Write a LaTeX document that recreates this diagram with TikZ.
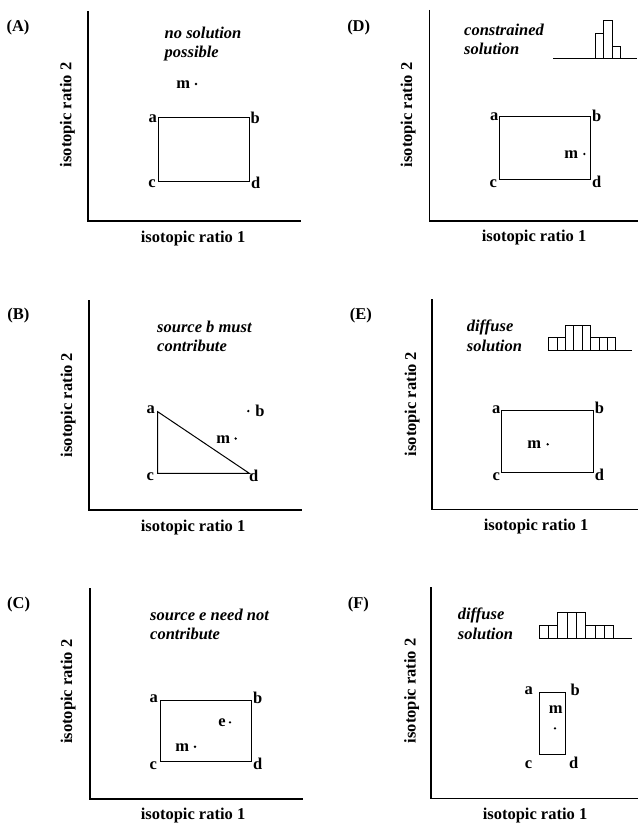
\documentclass[tikz,border=0pt]{standalone}
\usepackage{fontspec}
\setmainfont{Liberation Serif}
\begin{document}
\begin{tikzpicture}[x=1pt,y=-1pt,
  lab/.style={font=\fontsize{16.5}{19}\selectfont\bfseries, inner sep=0pt},
  note/.style={font=\fontsize{16.5}{19.2}\selectfont\bfseries\itshape, inner sep=0pt, align=left, anchor=base west},
  axl/.style={font=\fontsize{16.5}{19}\selectfont\bfseries, inner sep=0pt, anchor=base},
  ayl/.style={axl, rotate=90},
  axisline/.style={line width=1.2pt},
  shapeline/.style={line width=1pt, line join=miter},
  histline/.style={line width=0.9pt},
  ]
\useasboundingbox (0,0) rectangle (638,824);

% ================= Panel A =================
\node[lab] (pA) at (18,27.5) {(A)};
\coordinate (A0) at (88,221);
\draw[axisline] (88,11) -- (A0) -- (301,221);
\node[axl] (Ax) at (193,242.3) {isotopic ratio 1};
\node[ayl] (Ay) at (71.3,115) {isotopic ratio 2};
\node[note] (An) at (164.5,57.5) {no solution\\possible};
\coordinate (Aa) at (158,118);
\coordinate (Ab) at (249,118);
\coordinate (Ac) at (158,181);
\coordinate (Ad) at (249,181);
\draw[shapeline] (Aa) -- (Ab) -- (Ad) -- (Ac) -- cycle;
\node[lab] (Ala) at (152.8,119) {a};
\node[lab] (Alb) at (255.3,118) {b};
\node[lab] (Alc) at (152,184) {c};
\node[lab] (Ald) at (255.7,182.5) {d};
\node[lab] (Alm) at (183.3,85) {m};
\fill (196,84) circle (1.3pt);

% ================= Panel D =================
\node[lab] (pD) at (358.7,27.5) {(D)};
\coordinate (D0) at (429.7,221);
\draw[axisline] (429.7,10) -- (D0) -- (638,221);
\node[axl] (Dx) at (534,241.7) {isotopic ratio 1};
\node[ayl] (Dy) at (412,115) {isotopic ratio 2};
\node[note] (Dn) at (464,55) {constrained\\solution};
\draw[histline] (553,58.7) -- (637,58.7);
\draw[histline] (595,58.7) rectangle (603.3,33.3);
\draw[histline] (603.3,58.7) rectangle (612.3,20.7);
\draw[histline] (612.3,58.7) rectangle (620.3,46);
\coordinate (Da) at (499,116.7);
\coordinate (Db) at (590.3,116.7);
\coordinate (Dc) at (499,179);
\coordinate (Dd) at (590.3,179);
\draw[shapeline] (Da) -- (Db) -- (Dd) -- (Dc) -- cycle;
\node[lab] (Dla) at (494.2,117) {a};
\node[lab] (Dlb) at (596.7,116) {b};
\node[lab] (Dlc) at (493.3,183.3) {c};
\node[lab] (Dld) at (596.7,181.7) {d};
\node[lab] (Dlm) at (571.2,155) {m};
\fill (584.3,154) circle (1.3pt);

% ================= Panel B =================
\node[lab] (pB) at (18.3,315.5) {(B)};
\coordinate (B0) at (89,510);
\draw[axisline] (89,300) -- (B0) -- (302,510);
\node[axl] (Bx) at (193,531.3) {isotopic ratio 1};
\node[ayl] (By) at (72,405) {isotopic ratio 2};
\node[note] (Bn) at (157,351.7) {source b must\\contribute};
\coordinate (Ba) at (157.7,411.7);
\coordinate (Bc) at (157.7,473.3);
\coordinate (Bd) at (249.3,473.3);
\draw[shapeline] (Ba) -- (Bd) -- (Bc) -- cycle;
\node[lab] (Bla) at (150.8,410) {a};
\node[lab] (Blc) at (150.3,476.7) {c};
\node[lab] (Bld) at (253.8,475.8) {d};
\node[lab] (Blb) at (260,411.3) {b};
\fill (248.3,411) circle (1.3pt);
\node[lab] (Blm) at (223.3,439.5) {m};
\fill (235.7,438.5) circle (1.3pt);

% ================= Panel E =================
\node[lab] (pE) at (360.8,315.5) {(E)};
\coordinate (E0) at (432,509.3);
\draw[axisline] (432,299.3) -- (E0) -- (638,509.3);
\node[axl] (Ex) at (536,530.6) {isotopic ratio 1};
\node[ayl] (Ey) at (416,404) {isotopic ratio 2};
\node[note] (En) at (466.7,351) {diffuse\\solution};
\draw[histline] (548.3,350) -- (631.7,350);
\foreach \l/\r/\t in {548.3/557/337.7, 557/565.3/337.7, 565.3/573.7/325, 573.7/582.3/325, 582.3/590.7/325, 590.7/599/337.7, 599/607.3/337.7, 607.3/615.7/337.7}
  \draw[histline] (\l,350) rectangle (\r,\t);
\coordinate (Ea) at (501.7,410.7);
\coordinate (Eb) at (593.7,410.7);
\coordinate (Ec) at (501.7,472.3);
\coordinate (Ed) at (593.7,472.3);
\draw[shapeline] (Ea) -- (Eb) -- (Ed) -- (Ec) -- cycle;
\node[lab] (Ela) at (496.2,409.7) {a};
\node[lab] (Elb) at (599.5,407.8) {b};
\node[lab] (Elc) at (496.2,476.2) {c};
\node[lab] (Eld) at (599.5,474.8) {d};
\node[lab] (Elm) at (534.3,445) {m};
\fill (547.7,444.3) circle (1.3pt);

% ================= Panel C =================
\node[lab] (pC) at (18.7,604.2) {(C)};
\coordinate (C0) at (90,799);
\draw[axisline] (90,588.3) -- (C0) -- (302.7,799);
\node[axl] (Cx) at (193,819.5) {isotopic ratio 1};
\node[ayl] (Cy) at (72,691.7) {isotopic ratio 2};
\node[note] (Cn) at (150,639.3) {source e need not\\contribute};
\coordinate (Ca) at (160,700);
\coordinate (Cb) at (251,700);
\coordinate (Cc) at (160,761.7);
\coordinate (Cd) at (251,761.7);
\draw[shapeline] (Ca) -- (Cb) -- (Cd) -- (Cc) -- cycle;
\node[lab] (Cla) at (153.8,698.8) {a};
\node[lab] (Clb) at (257.8,697.5) {b};
\node[lab] (Clc) at (153.2,765.5) {c};
\node[lab] (Cld) at (257.8,763.8) {d};
\node[lab] (Cle) at (222,722.8) {e};
\fill (230,722.3) circle (1.3pt);
\node[lab] (Clm) at (182.3,747.8) {m};
\fill (195,746.7) circle (1.3pt);

% ================= Panel F =================
\node[lab] (pF) at (358.3,604.2) {(F)};
\coordinate (F0) at (431,798.3);
\draw[axisline] (431,587.3) -- (F0) -- (638,798.3);
\node[axl] (Fx) at (535,819.6) {isotopic ratio 1};
\node[ayl] (Fy) at (415.5,690.8) {isotopic ratio 2};
\node[note] (Fn) at (457.7,639) {diffuse\\solution};
\draw[histline] (539,638.3) -- (631.7,638.3);
\foreach \l/\r/\t in {539/548.3/625.7, 548.3/557.7/625.7, 557.7/567/612.7, 567/576.3/612.7, 576.3/585.7/612.7, 585.7/595/625.7, 595/604.3/625.7, 604.3/613.7/625.7}
  \draw[histline] (\l,638.3) rectangle (\r,\t);
\coordinate (Fa) at (539.3,692.3);
\coordinate (Fb) at (565.3,692.3);
\coordinate (Fc) at (539.3,754.3);
\coordinate (Fd) at (565.3,754.3);
\draw[shapeline] (Fa) -- (Fb) -- (Fd) -- (Fc) -- cycle;
\node[lab] (Fla) at (528.8,691.2) {a};
\node[lab] (Flb) at (575.3,690) {b};
\node[lab] (Flc) at (528.5,764.2) {c};
\node[lab] (Fld) at (573.8,763.3) {d};
\node[lab] (Flm) at (555.8,709.8) {m};
\fill (555,728.3) circle (1.3pt);
\end{tikzpicture}
\end{document}
